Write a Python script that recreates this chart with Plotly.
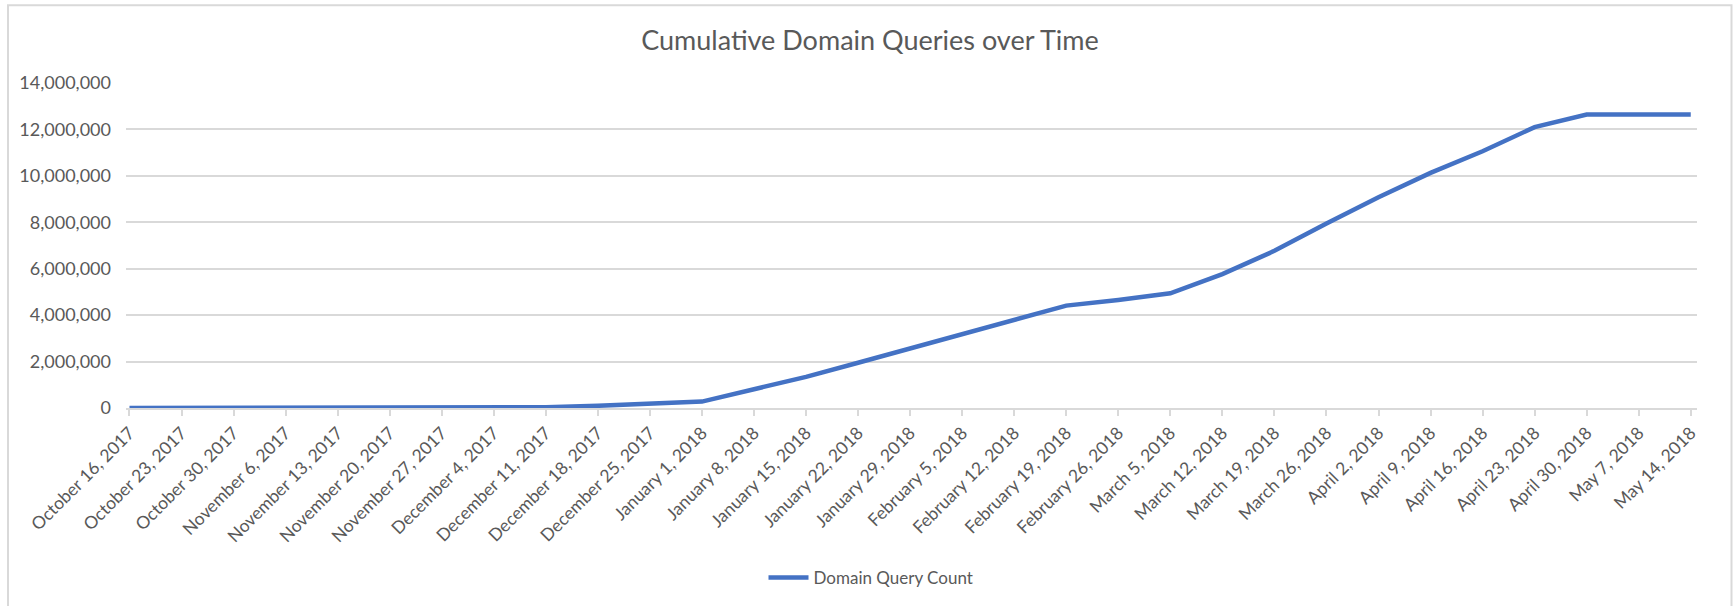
import plotly.graph_objects as go

weeks = [
    "October 16, 2017", "October 23, 2017", "October 30, 2017", "November 6, 2017",
    "November 13, 2017", "November 20, 2017", "November 27, 2017", "December 4, 2017",
    "December 11, 2017", "December 18, 2017", "December 25, 2017", "January 1, 2018",
    "January 8, 2018", "January 15, 2018", "January 22, 2018", "January 29, 2018",
    "February 5, 2018", "February 12, 2018", "February 19, 2018", "February 26, 2018",
    "March 5, 2018", "March 12, 2018", "March 19, 2018", "March 26, 2018",
    "April 2, 2018", "April 9, 2018", "April 16, 2018", "April 23, 2018",
    "April 30, 2018", "May 7, 2018", "May 14, 2018",
]
query_counts = [
    0, 0, 0, 0,
    0, 0, 0, 5000,
    30000, 95000, 170000, 275000,
    810000, 1340000, 1950000, 2560000,
    3170000, 3780000, 4410000, 4650000,
    4940000, 5770000, 6770000, 7950000,
    9080000, 10130000, 11060000, 12100000,
    12640000, 12640000, 12640000,
]
y_ticks = [0, 2000000, 4000000, 6000000, 8000000, 10000000, 12000000, 14000000]

W, H = 1735, 606
ML, MR, MT, MB = 126, 38, 83, 197
PW = W - ML - MR
PH = H - MT - MB

FONT = "Lato"
TXT = "#595959"
GRID = "#d9d9d9"

fig = go.Figure()
fig.add_trace(go.Scatter(
    x=weeks, y=query_counts, mode="lines", name="Domain Query Count",
    line=dict(color="#4472C4", width=4.5, shape="linear"),
))

fig.update_layout(
    width=W, height=H,
    margin=dict(l=ML, r=MR, t=MT, b=MB, pad=0),
    paper_bgcolor="white", plot_bgcolor="white",
    font=dict(family=FONT, color=TXT, size=17),
    title=dict(text="Cumulative Domain Queries over Time", x=870 / W, xanchor="center",
               y=1 - 41 / H, yanchor="middle",
               font=dict(family=FONT, size=27, color=TXT)),
    showlegend=True,
    legend=dict(orientation="h", x=(871 - ML) / PW, xanchor="center",
                y=(MT + PH - 578) / PH, yanchor="middle",
                font=dict(family=FONT, size=17, color=TXT),
                itemwidth=40, bgcolor="rgba(0,0,0,0)"),
    xaxis=dict(
        type="category", range=[-0.067, 30.12],
        tickangle=-45, tickfont=dict(family=FONT, size=17.5, color=TXT),
        showgrid=False, zeroline=False,
        showline=True, linecolor=GRID, linewidth=2,
        ticks="outside", ticklen=6, tickcolor=GRID, tickwidth=2,
    ),
    yaxis=dict(
        range=[0, 14000000], tickvals=y_ticks, tickformat=",d",
        tickfont=dict(family=FONT, size=18, color=TXT),
        showgrid=True, gridcolor=GRID, gridwidth=1.5,
        zeroline=False, showline=False, ticks="", ticklabelstandoff=14,
    ),
    shapes=[dict(
        type="rect", xref="paper", yref="paper", layer="below",
        x0=(8 - ML) / PW, x1=(1731.5 - ML) / PW,
        y0=(MT + PH - 620) / PH, y1=(MT + PH - 5) / PH,
        line=dict(color=GRID, width=2), fillcolor="rgba(0,0,0,0)",
    )],
)

fig.write_html("out.html", config={"displayModeBar": False},
               post_script="document.body.style.margin='0px';")
